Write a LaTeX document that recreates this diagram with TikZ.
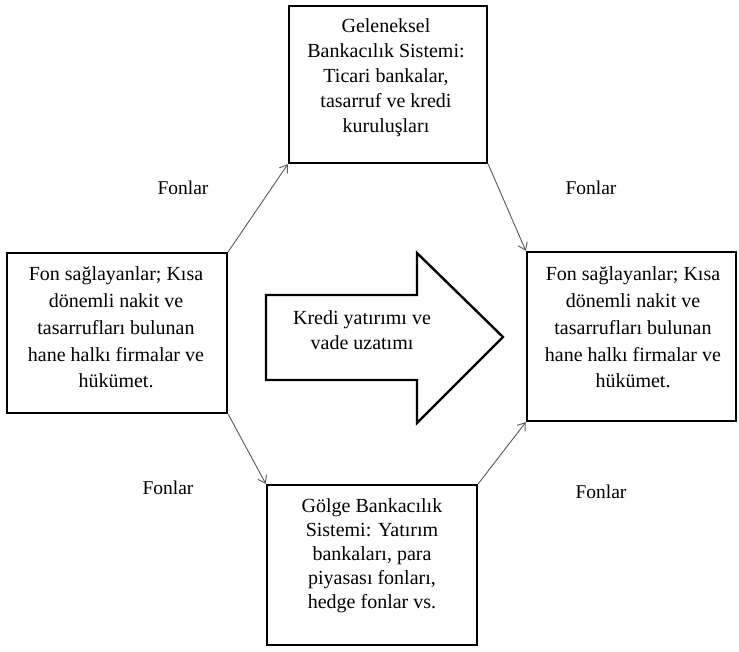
\documentclass[tikz,border=0pt]{standalone}
\usepackage{fontspec}
\setmainfont{Liberation Serif}
\usetikzlibrary{arrows.meta}
\begin{document}
\begin{tikzpicture}[x=1pt,y=-1pt,
  box/.style={draw=black, line width=2.4pt, inner sep=0pt, fill=white},
  txt/.style={align=center, inner sep=0pt},
  flow/.style={draw=black!65, line width=0.9pt, -{Straight Barb[length=7pt,width=10pt]}},
  lbl/.style={inner sep=0pt, font=\fontsize{19.5}{24}\selectfont}]
\useasboundingbox (0,0) rectangle (739,651);
\path[fill=white] (0,0) rectangle (739,651);

% boxes
\node[box, minimum width=198pt, minimum height=157pt] (top) at (388,84.5) {};
\node[box, minimum width=220pt, minimum height=160pt] (left) at (117,333) {};
\node[box, minimum width=209pt, minimum height=169pt] (right) at (631.5,336.5) {};
\node[box, minimum width=210pt, minimum height=160pt] (bottom) at (372,565) {};

% box texts
\node[txt, font=\fontsize{20}{25}\selectfont] (toptext) at (386,78)
  {Geleneksel\\Bankacılık Sistemi:\\Ticari bankalar,\\tasarruf ve kredi\\kuruluşları};
\node[txt, font=\fontsize{20}{26.7}\selectfont] (lefttext) at (116,327.5)
  {Fon sağlayanlar; Kısa\\dönemli nakit ve\\tasarrufları bulunan\\hane halkı firmalar ve\\hükümet.};
\node[txt, font=\fontsize{20}{26.7}\selectfont] (righttext) at (633,327.5)
  {Fon sağlayanlar; Kısa\\dönemli nakit ve\\tasarrufları bulunan\\hane halkı firmalar ve\\hükümet.};
\node[txt, font=\fontsize{20}{24}\selectfont] (bottomtext) at (372,556)
  {Gölge Bankacılık\\Sistemi: Yatırım\\bankaları, para\\piyasası fonları,\\hedge fonlar vs.};

% big arrow
\draw[line width=2.4pt, line join=miter] (266,295) -- (417,295) -- (417,253) -- (503,337)
  -- (417,423) -- (417,380) -- (266,380) -- cycle;
\node[txt, font=\fontsize{20}{25}\selectfont] (kredi) at (362,330.5)
  {Kredi yatırımı ve\\vade uzatımı};

% connectors
\draw[flow] (left.north east) -- (top.south west);
\draw[flow] (top.south east) -- (right.north west);
\draw[flow] (left.south east) -- (bottom.north west);
\draw[flow] (bottom.north east) -- (right.south west);

% labels
\node[lbl] (f1) at (183,188) {Fonlar};
\node[lbl] (f2) at (591,188) {Fonlar};
\node[lbl] (f3) at (168,488) {Fonlar};
\node[lbl] (f4) at (601,492) {Fonlar};
\end{tikzpicture}
\end{document}
